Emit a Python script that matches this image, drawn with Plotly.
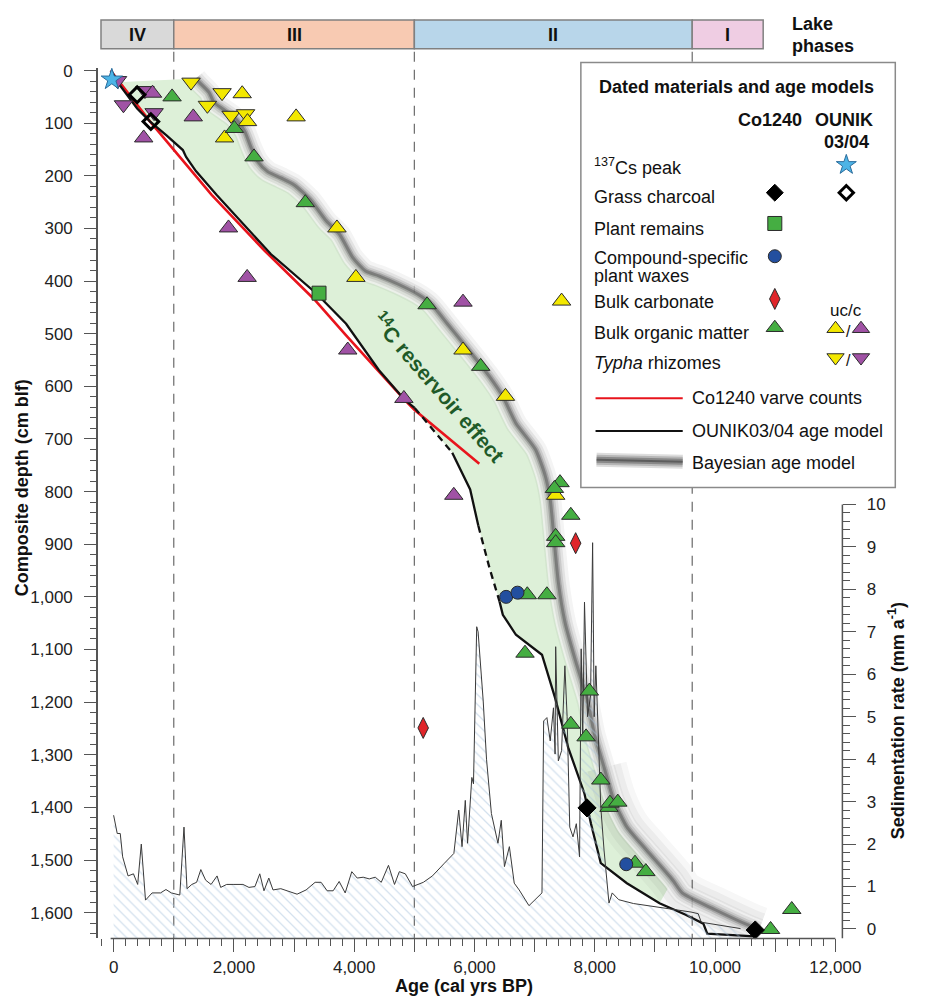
import plotly.graph_objects as go

W, H = 928, 1001
FONT = "Liberation Sans, Arial, sans-serif"

# ---------------- data ----------------
PHASE_NAMES = ["IV", "III", "II", "I"]
PHASE_EDGES = [-210, 1000, 5000, 9620, 10800]
PHASE_COLORS = ["#d9d9d9", "#f8cab2", "#b8d6ea", "#efcde3"]
PHASE_DIVIDERS = [1000, 5000, 9620]

# dated samples (age cal yrs BP, composite depth cm)
CS_AGE, CS_DEPTH = [-30], [17]
CHAR_OUNIK_AGE, CHAR_OUNIK_DEPTH = [391, 619], [46, 97]
CHAR_CO_AGE, CHAR_CO_DEPTH = [7871, 10668], [1401, 1633]
PLANT_AGE, PLANT_DEPTH = [3415], [423]
WAX_AGE, WAX_DEPTH = [6526, 6715, 8523], [1000, 992, 1508]
CARB_AGE, CARB_DEPTH = [7682, 5147], [898, 1249]
BOM_CO_AGE = [972, 2008, 2334, 3187, 5212, 6103, 7422, 7329, 7601, 7350, 7350, 6878, 7204,
              6840, 7910, 7601, 7855, 8100, 8236, 8252, 8383, 8669, 8849, 10923, 11275]
BOM_CO_DEPTH = [50, 110, 164, 251, 445, 562, 783, 794, 845, 885, 897, 996, 996,
                1107, 1179, 1242, 1266, 1348, 1400, 1392, 1390, 1506, 1522, 1632, 1594]
BOM_UC_AGE = [2138, 2226, 1845, 3034, 3713, 4028, 5809, 6515, 7350, 7448]
BOM_UC_DEPTH = [44, 97, 128, 88, 299, 393, 531, 619, 807, 438]
BOM_C_AGE = [647, 500, 1324, 1910, 2220, 5809, 3893, 4826, 5656]
BOM_C_DEPTH = [43, 128, 88, 299, 393, 440, 531, 623, 807]
TYPHA_UC_AGE = [1287, 1803, 1559, 1954, 2194]
TYPHA_UC_DEPTH = [22, 42, 66, 85, 82]
TYPHA_C_AGE = [65, 521, 163, 673]
TYPHA_C_DEPTH = [19, 38, 65, 80]

# Co1240 varve counts
VARVE_AGE = [-50, 600, 1630, 2508, 3330, 3865, 4842, 5005, 6080]
VARVE_DEPTH = [0, 96, 236, 342, 434, 503, 626, 645, 747]

# OUNIK03/04 age model
OUNIK_AGE = [-40, 65, 228, 391, 607, 879, 1151, 1205, 1368, 1710, 2617, 3376, 3865, 4409,
             4842, 5005, 5630, 5928, 6064, 6254, 6417, 6471, 6689, 7122, 7340, 7557, 7829,
             7937, 8100, 8534, 9077, 9511, 9805, 9870, 10651]
OUNIK_DEPTH = [0, 22, 47, 72, 97, 123, 151, 164, 191, 236, 349, 424, 481, 569,
               626, 641, 726, 796, 865, 947, 1009, 1034, 1072, 1110, 1192, 1286, 1374,
               1431, 1506, 1544, 1582, 1604, 1621, 1640, 1645]
OUNIK_DASHED = [(5005, 5630), (6064, 6417)]

# Bayesian age model (median path)
BAND_AGE = [1368, 1422, 1585, 1666, 1803, 1966, 2073, 2182, 2292, 2399, 2562, 2780, 2997,
            3269, 3539, 3757, 3974, 4191, 4409, 4735, 5060, 5277, 5549, 5819, 6037, 6254,
            6471, 6689, 7015, 7177, 7259, 7313, 7394, 7503, 7666, 7883, 7992, 8155, 8318,
            8534, 8860, 9295, 9457, 9993, 10536, 10733]
BAND_DEPTH = [15, 22, 41, 60, 72, 85, 97, 116, 148, 173, 192, 204, 217,
              245, 286, 311, 355, 381, 390, 406, 425, 443, 481, 519, 550, 582,
              619, 670, 720, 770, 815, 877, 972, 1047, 1116, 1198, 1260, 1324, 1387,
              1437, 1481, 1538, 1563, 1594, 1623, 1632]
RESERVOIR_MAX_AGE = 9300

# Sedimentation rate (mm/a)
SED_AGE = [0, 60, 110, 150, 240, 330, 400, 460, 530, 640, 780, 870, 960, 1100, 1170, 1220,
           1300, 1380, 1450, 1530, 1620, 1720, 1780, 1880, 2000, 2150, 2250, 2350, 2430,
           2500, 2580, 2650, 2780, 2900, 3050, 3200, 3350, 3450, 3550, 3650, 3750, 3850,
           3960, 4050, 4150, 4250, 4350, 4450, 4570, 4670, 4750, 4850, 4970, 5150, 5300,
           5500, 5657, 5738, 5793, 5847, 5885, 5956, 5983, 6037, 6060, 6145, 6200, 6281,
           6390, 6445, 6498, 6580, 6661, 6743, 6906, 7122, 7150, 7204, 7259, 7313, 7340,
           7350, 7394, 7448, 7503, 7540, 7584, 7638, 7693, 7747, 7774, 7800, 7829, 7880,
           7930, 7964, 7990, 8018, 8100, 8154, 8236, 8290, 8399, 8643, 8969, 9349, 9600,
           9720, 9770, 10423]
SED_RATE = [2.68, 2.25, 2.25, 1.70, 1.25, 1.30, 1.05, 2.0, 0.68, 0.85, 0.85, 0.93, 0.85, 0.80,
            2.40, 0.95, 1.05, 1.10, 1.40, 1.15, 1.05, 1.25, 0.98, 1.05, 1.05, 1.05, 0.98, 1.00,
            1.30, 0.90, 1.20, 0.92, 0.95, 0.90, 0.82, 0.92, 1.10, 1.10, 0.90, 0.90, 1.12, 0.85,
            1.35, 1.20, 1.22, 1.18, 1.22, 1.10, 1.50, 1.05, 1.35, 1.30, 1.00, 1.10, 1.25,
            1.55, 1.78, 2.80, 1.94, 3.03, 2.02, 3.57, 3.42, 7.12, 7.0, 5.37, 4.0, 2.72,
            2.02, 2.56, 1.47, 1.94, 1.08, 0.92, 0.55, 0.85, 4.90, 4.98, 4.43, 5.21, 4.12,
            6.65, 3.96, 4.20, 6.20, 5.0, 2.40, 2.17, 2.48, 1.70, 6.60, 4.5, 7.70, 5.0,
            5.5, 9.10, 5.0, 6.20, 2.87, 1.86, 0.61, 0.85, 0.69, 0.60, 0.53, 0.46, 0.40,
            0.36, 0.16, 0.01]

X_TICKS = list(range(0, 12001, 1000))
Y_TICKS = list(range(0, 1601, 100))
RATE_TICKS = list(range(0, 11))

# ---------------- geometry (pixels) ----------------
PL, PR, PT, PB = 100, 860, 62, 939          # plot box
X_RANGE = [-260.6, 12117]
Y_RANGE = [1649, -5.7]
RATE_PX = 42.75                               # px per mm/a
RATE_ZERO_PX = 929.5
RATE_MIN = (RATE_ZERO_PX - PB) / RATE_PX
RATE_MAX = RATE_MIN + (PB - PT) / RATE_PX

GREEN = "#45ae42"; YELLOW = "#f3e800"; PURPLE = "#a052a5"
BLUE = "#234f9f"; RED = "#e0252a"; STAR = "#4db4e6"
EDGE = "#2b2b2b"

fig = go.Figure()

# reservoir-effect area between OUNIK age model and Bayesian model
om = [(a, d) for a, d in zip(OUNIK_AGE, OUNIK_DEPTH) if d >= 15 and a <= RESERVOIR_MAX_AGE]
bm = [(a, d) for a, d in zip(BAND_AGE, BAND_DEPTH) if a <= RESERVOIR_MAX_AGE]
poly_x = [p[0] for p in om] + [p[0] for p in reversed(bm)]
poly_y = [p[1] for p in om] + [p[1] for p in reversed(bm)]
fig.add_trace(go.Scatter(x=poly_x, y=poly_y, fill="toself", fillcolor="#ddf0d8",
                         mode="none", hoverinfo="skip", xaxis="x", yaxis="y"))

# Bayesian band (gradient via stacked translucent lines)
lower = [(a, d) for a, d in zip(BAND_AGE, BAND_DEPTH) if a >= 8000]
for w, al in [(46, 0.035), (34, 0.05)]:
    fig.add_trace(go.Scatter(x=[p[0] for p in lower], y=[p[1] for p in lower], mode="lines",
                             line=dict(color=f"rgba(30,30,30,{al})", width=w, shape="spline"),
                             hoverinfo="skip", xaxis="x", yaxis="y"))
fig.add_trace(go.Scatter(x=BAND_AGE, y=BAND_DEPTH, mode="lines",
                         line=dict(color="rgba(255,255,255,0.75)", width=19, shape="spline",
                                   smoothing=0.6),
                         hoverinfo="skip", xaxis="x", yaxis="y"))
for w, al in [(22, 0.05), (15, 0.08), (10, 0.12), (6, 0.2), (3, 0.3)]:
    fig.add_trace(go.Scatter(x=BAND_AGE, y=BAND_DEPTH, mode="lines",
                             line=dict(color=f"rgba(30,30,30,{al})", width=w, shape="spline",
                                       smoothing=0.6),
                             hoverinfo="skip", xaxis="x", yaxis="y"))

# varve counts
fig.add_trace(go.Scatter(x=VARVE_AGE, y=VARVE_DEPTH, mode="lines",
                         line=dict(color="#e8141c", width=2.6), xaxis="x", yaxis="y"))

# OUNIK age model, solid/dashed runs
runs = []
for i in range(len(OUNIK_AGE) - 1):
    mid = (OUNIK_AGE[i] + OUNIK_AGE[i + 1]) / 2
    dashed = any(a <= mid <= b for a, b in OUNIK_DASHED)
    if runs and runs[-1][0] == dashed:
        runs[-1][1].append(i + 1)
    else:
        runs.append((dashed, [i, i + 1]))
for dashed, idx in runs:
    fig.add_trace(go.Scatter(x=[OUNIK_AGE[k] for k in idx], y=[OUNIK_DEPTH[k] for k in idx],
                             mode="lines",
                             line=dict(color="#111111", width=2.3,
                                       dash="7px,5px" if dashed else "solid"),
                             xaxis="x", yaxis="y"))

# sedimentation rate (overlay axis y2)
fig.add_trace(go.Scatter(x=[SED_AGE[0], SED_AGE[-1]], y=[RATE_MIN, RATE_MIN], mode="lines",
                         line=dict(width=0), hoverinfo="skip", xaxis="x", yaxis="y2"))
fig.add_trace(go.Scatter(x=SED_AGE, y=SED_RATE, mode="lines", fill="tonexty",
                         fillcolor="rgba(255,255,255,0)",
                         fillpattern=dict(shape="\\", fgcolor="#a9c3dd", bgcolor="rgba(0,0,0,0)",
                                          size=7, solidity=0.18),
                         line=dict(color="#3a3a3a", width=1), xaxis="x", yaxis="y2"))

# dated samples (overlay axis y3, on top)
def pts(xs, ys, symbol, color, size, lw=1, lc=EDGE):
    fig.add_trace(go.Scatter(x=xs, y=ys, mode="markers", cliponaxis=False,
                             marker=dict(symbol=symbol, color=color, size=size,
                                         line=dict(color=lc, width=lw)),
                             xaxis="x", yaxis="y3"))

pts(TYPHA_C_AGE, TYPHA_C_DEPTH, "triangle-down", PURPLE, 16)
pts(TYPHA_UC_AGE, TYPHA_UC_DEPTH, "triangle-down", YELLOW, 16)
pts(BOM_C_AGE, BOM_C_DEPTH, "triangle-up", PURPLE, 16)
pts(BOM_UC_AGE, BOM_UC_DEPTH, "triangle-up", YELLOW, 16)
pts(BOM_CO_AGE, BOM_CO_DEPTH, "triangle-up", GREEN, 16)
pts(PLANT_AGE, PLANT_DEPTH, "square", GREEN, 14)
pts(WAX_AGE, WAX_DEPTH, "circle", BLUE, 13)
pts(CARB_AGE, CARB_DEPTH, "diamond-tall", RED, 15)
pts(CHAR_CO_AGE, CHAR_CO_DEPTH, "diamond", "#000000", 14, 1, "#000000")
pts(CHAR_OUNIK_AGE, CHAR_OUNIK_DEPTH, "diamond-open", "#000000", 12, 3, "#000000")
pts(CS_AGE, CS_DEPTH, "star", STAR, 16, 1, "#2a6c9c")

# ---------------- legend (pixel axes x4/y4) ----------------
def lpt(x, y, symbol, color, size, lw=1, lc=EDGE):
    fig.add_trace(go.Scatter(x=[x], y=[y], mode="markers",
                             marker=dict(symbol=symbol, color=color, size=size,
                                         line=dict(color=lc, width=lw)),
                             xaxis="x4", yaxis="y4"))

lpt(864, 160, "star", STAR, 15, 1, "#2a6c9c")
lpt(791, 188, "diamond", "#000000", 13, 1, "#000000")
lpt(864, 188, "diamond-open", "#000000", 11, 3, "#000000")
lpt(791, 219, "square", GREEN, 14)
lpt(791, 252, "circle", BLUE, 13)
lpt(791, 295, "diamond-tall", RED, 15)
lpt(791, 324, "triangle-up", GREEN, 15)
lpt(853, 325, "triangle-up", YELLOW, 15)
lpt(879, 325, "triangle-up", PURPLE, 15)
lpt(853, 354, "triangle-down", YELLOW, 15)
lpt(879, 354, "triangle-down", PURPLE, 15)
fig.add_trace(go.Scatter(x=[608, 697], y=[395, 395], mode="lines",
                         line=dict(color="#e8141c", width=2), xaxis="x4", yaxis="y4"))
fig.add_trace(go.Scatter(x=[608, 697], y=[428, 428], mode="lines",
                         line=dict(color="#111111", width=2), xaxis="x4", yaxis="y4"))
for w, al in [(14, 0.15), (10, 0.2), (6, 0.3), (2, 0.4)]:
    fig.add_trace(go.Scatter(x=[609, 697], y=[457, 459], mode="lines",
                             line=dict(color=f"rgba(30,30,30,{al})", width=w),
                             xaxis="x4", yaxis="y4"))

# ---------------- shapes ----------------
shapes = []
for i, name in enumerate(PHASE_NAMES):
    shapes.append(dict(type="rect", xref="x", yref="y4", x0=PHASE_EDGES[i], x1=PHASE_EDGES[i + 1],
                       y0=14, y1=43, fillcolor=PHASE_COLORS[i],
                       line=dict(color="#808080", width=1.5), layer="above"))
for d in PHASE_DIVIDERS:
    shapes.append(dict(type="line", xref="x", yref="y4", x0=d, x1=d, y0=46, y1=PB,
                       line=dict(color="#6a6a6a", width=1.2, dash="10px,8px"), layer="below"))
# legend box
shapes.append(dict(type="rect", xref="x4", yref="y4", x0=593, x1=914, y0=57, y1=485,
                   fillcolor="white", line=dict(color="#8a8a8a", width=1.5), layer="below"))
# bottom axis line
shapes.append(dict(type="line", xref="x", yref="y4", x0=-50, x1=12000, y0=PB, y1=PB,
                   line=dict(color="#555555", width=1.5), layer="above"))
# rate axis line
shapes.append(dict(type="line", xref="x4", yref="y2", x0=PR, x1=PR, y0=RATE_MIN, y1=RATE_TICKS[-1],
                   line=dict(color="#555555", width=1.5), layer="above"))

# ---------------- annotations ----------------
ann = []
def txt(x, y, s, size=18, bold=False, xanchor="center", angle=0, color="#111111", xref="x4", yref="y4"):
    ann.append(dict(x=x, y=y, xref=xref, yref=yref, text=(f"<b>{s}</b>" if bold else s),
                    showarrow=False, xanchor=xanchor, yanchor="middle", textangle=angle,
                    font=dict(family=FONT, size=size, color=color)))

for i, name in enumerate(PHASE_NAMES):
    txt((PHASE_EDGES[i] + PHASE_EDGES[i + 1]) / 2, 29, name, 18, True, xref="x")
txt(806, 18, "Lake", 18, True, "left")
txt(806, 40, "phases", 18, True, "left")

txt(752, 82, "Dated materials and age models", 18, True)
txt(786, 115, "Co1240", 18, True)
txt(862, 115, "OUNIK", 18, True)
txt(864, 137, "03/04", 18, True)
txt(604, 162, "<sup>137</sup>Cs peak", 18, False, "left")
txt(604, 192, "Grass charcoal", 18, False, "left")
txt(604, 225, "Plant remains", 18, False, "left")
txt(604, 254, "Compound-specific", 18, False, "left")
txt(604, 272, "plant waxes", 18, False, "left")
txt(604, 298, "Bulk carbonate", 18, False, "left")
txt(604, 329, "Bulk organic matter", 18, False, "left")
txt(604, 360, "<i>Typha</i> rhizomes", 18, False, "left")
txt(864, 307, "uc/c", 17)
txt(866, 328, "/", 16)
txt(866, 357, "/", 16)
txt(704, 395, "Co1240 varve counts", 18, False, "left")
txt(704, 428, "OUNIK03/04 age model", 18, False, "left")
txt(704, 460, "Bayesian age model", 18, False, "left")

txt(22, 485, "Composite depth (cm blf)", 18, True, angle=-90)
txt(916, 720, "Sedimentation rate (mm a<sup>-1</sup>)", 18, True, angle=-90)
txt(474, 987, "Age (cal yrs BP)", 18, True)
txt(5407, 602, "<sup>14</sup>C reservoir effect", 21, True, angle=49, color="#1f5a28",
    xref="x", yref="y")

# ---------------- layout ----------------
tickfont = dict(family=FONT, size=17, color="#222222")
fig.update_layout(
    width=W, height=H, autosize=False, margin=dict(l=0, r=0, t=0, b=0, pad=0),
    paper_bgcolor="white", plot_bgcolor="rgba(0,0,0,0)", showlegend=False,
    shapes=shapes, annotations=ann,
    xaxis=dict(domain=[PL / W, PR / W], range=X_RANGE, anchor="y", showgrid=False,
               zeroline=False, showline=False, tickmode="array", tickvals=X_TICKS,
               ticktext=[f"{v:,}" if v % 2000 == 0 else "" for v in X_TICKS],
               ticks="outside", ticklen=13, tickwidth=1.2, tickcolor="#555555",
               minor=dict(tick0=0, dtick=200, ticks="outside", ticklen=7, tickwidth=1,
                          tickcolor="#555555"),
               tickfont=tickfont),
    yaxis=dict(domain=[1 - PB / H, 1 - PT / H], range=Y_RANGE, anchor="x", showgrid=False,
               zeroline=False, showline=True, linecolor="#555555", linewidth=1.5,
               tickmode="array", tickvals=Y_TICKS, tickformat=",",
               ticks="outside", ticklen=12, tickwidth=1.2, tickcolor="#555555",
               ticklabelstandoff=8,
               minor=dict(tick0=0, dtick=20, ticks="outside", ticklen=6, tickwidth=1,
                          tickcolor="#555555"),
               tickfont=tickfont),
    yaxis2=dict(overlaying="y", side="right", anchor="x", range=[RATE_MIN, RATE_MAX],
                showgrid=False, zeroline=False, showline=False, tickmode="array",
                tickvals=RATE_TICKS, ticks="outside", ticklen=13, tickwidth=1.2,
                tickcolor="#555555", ticklabelstandoff=7,
                minor=dict(tickmode="array",
                           tickvals=[round(i * 0.2, 1) for i in range(51)],
                           ticks="outside", ticklen=7, tickwidth=1, tickcolor="#555555"),
                tickfont=tickfont),
    yaxis3=dict(overlaying="y", matches="y", visible=False),
    xaxis4=dict(domain=[0, 1], range=[0, W], anchor="y4", visible=False),
    yaxis4=dict(domain=[0, 1], range=[H, 0], anchor="x4", visible=False),
)

POST = ("document.documentElement.style.margin='0';document.documentElement.style.padding='0';"
        "document.documentElement.style.overflow='hidden';document.body.style.margin='0';"
        "document.body.style.padding='0';document.body.style.overflow='hidden';"
        "var gd=document.getElementById('{plot_id}');"
        "Plotly.relayout(gd,{width:%d,height:%d});" % (W, H))

fig.write_html("out.html", config={"responsive": False}, post_script=POST)
